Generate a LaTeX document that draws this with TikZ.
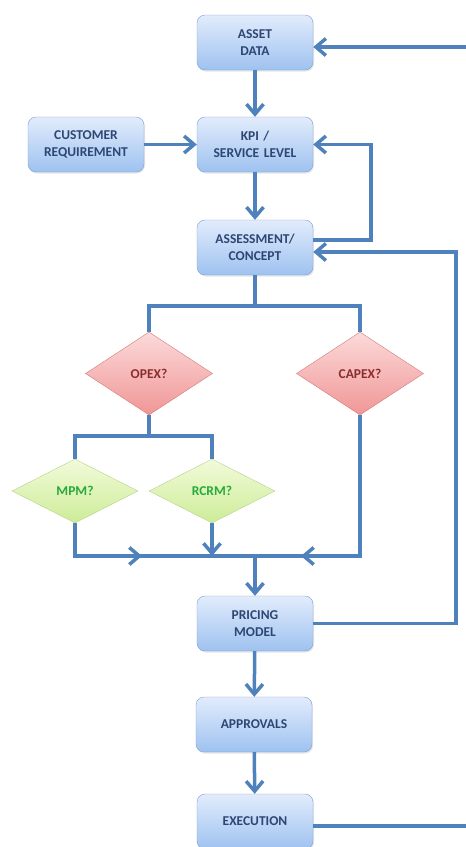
\documentclass[tikz,border=0pt]{standalone}
\usepackage{fontspec}
\setmainfont{Carlito}
\usetikzlibrary{shapes.geometric,arrows.meta,shadows}
\definecolor{lineblue}{RGB}{79,129,189}
\definecolor{boxtop}{RGB}{226,236,252}
\definecolor{boxbot}{RGB}{158,194,240}
\definecolor{boxline}{RGB}{125,160,210}
\definecolor{boxtext}{RGB}{45,70,115}
\definecolor{redtop}{RGB}{252,218,218}
\definecolor{redbot}{RGB}{240,150,150}
\definecolor{redline}{RGB}{215,120,120}
\definecolor{redtext}{RGB}{140,45,45}
\definecolor{greentop}{RGB}{242,251,218}
\definecolor{greenbot}{RGB}{205,236,152}
\definecolor{greenline}{RGB}{180,210,140}
\definecolor{greentext}{RGB}{40,170,60}

\begin{document}
\begin{tikzpicture}[
    x=1pt, y=-1pt,
    box/.style={rectangle, draw=boxline, top color=boxtop, bottom color=boxbot, text=boxtext, text width=3.9cm, text centered, rounded corners=8pt, minimum width=116pt, minimum height=55pt, inner sep=2pt, font=\bfseries\fontsize{13.5}{17}\selectfont, drop shadow={opacity=0.2, shadow xshift=1pt, shadow yshift=-1.5pt}},
    redq/.style={diamond, draw=redline, top color=redtop, bottom color=redbot, text=redtext, minimum width=127pt, minimum height=83pt, inner sep=0pt, font=\bfseries\fontsize{13.5}{17}\selectfont},
    greenq/.style={diamond, draw=greenline, top color=greentop, bottom color=greenbot, text=greentext, minimum width=126pt, minimum height=64pt, inner sep=0pt, font=\bfseries\fontsize{13.5}{17}\selectfont},
    line/.style={draw=lineblue, line width=3.5pt},
    arrow/.style={line, -{Straight Barb[length=10pt, width=17pt]}}
]
    \useasboundingbox (0,0) rectangle (466,847);
    \clip (0,0) rectangle (466,847);

    \node[box] (asset) at (255,42.5) {ASSET\\DATA};
    \node[box] (cust) at (86,144.5) {CUSTOMER\\REQUIREMENT};
    \node[box] (kpi) at (255,144.5) {KPI /\\SERVICE LEVEL};
    \node[box] (assess) at (255,247.5) {ASSESSMENT/\\CONCEPT};
    \node[redq] (opex) at (149,373.5) {OPEX?};
    \node[redq] (capex) at (360,373.5) {CAPEX?};
    \node[greenq] (mpm) at (75,491) {MPM?};
    \node[greenq] (rcrm) at (212,491) {RCRM?};
    \node[box] (pricing) at (255,623.5) {PRICING\\MODEL};
    \node[box] (approvals) at (254,724.5) {APPROVALS};
    \node[box] (exec) at (255,821.5) {EXECUTION};

    \coordinate (split) at (255,306);
    \coordinate (opexsplit) at (149,436);
    \coordinate (merge) at (255,556);

    \draw[arrow] (asset) -- (kpi);
    \draw[arrow] (cust) -- (kpi);
    \draw[arrow] (kpi) -- (assess);
    \draw[arrow] ([yshift=7.5pt]assess.east) -| ([xshift=58pt]kpi.east) -- (kpi.east);
    \draw[arrow] (pricing.east) -- ++(143,0) |- ([yshift=-4.5pt]assess.east);
    \draw[arrow] ([yshift=-4.5pt]exec.east) -- ++(170,0) |- ([yshift=-4.5pt]asset.east);

    % branches
    \draw[line] (assess.south) -- (split);
    \draw[line] (opex.north) |- (split) -| (capex.north);
    \draw[line] (opex.south) -- (opexsplit);
    \draw[line] (mpm.north) |- (opexsplit) -| (rcrm.north);

    % merge
    \draw[line] (mpm.south |- merge) -- (capex.south |- merge);
    \draw[arrow] (mpm.south) |- ([xshift=-113pt]merge);
    \draw[arrow] (capex.south) |- ([xshift=46pt]merge);
    \draw[arrow] (rcrm.south) -- (rcrm.south |- merge);
    \draw[arrow] (merge) -- (pricing);

    \draw[arrow] (pricing) -- (approvals);
    \draw[arrow] (approvals) -- (exec);
\end{tikzpicture}
\end{document}
